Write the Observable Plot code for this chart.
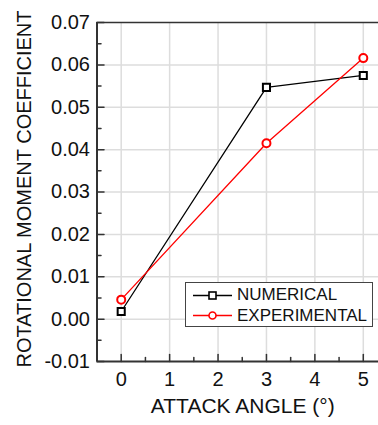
<!DOCTYPE html>
<html><head><meta charset="utf-8">
<script src="https://cdn.jsdelivr.net/npm/d3@7"></script>
<script src="https://cdn.jsdelivr.net/npm/@observablehq/plot@0.6"></script>
<style>
body{margin:0;background:#fff;overflow:hidden}
#wrap{position:relative;width:378px;height:425px;font-family:"Liberation Sans",Arial,sans-serif;color:#111}
#legend{position:absolute;left:185px;top:282px;width:188px;height:45px;border:1.5px solid #444;background:#fff;box-sizing:border-box;padding-top:2px}
.row{display:flex;align-items:center;height:20.5px;font-size:17px;white-space:nowrap}
.row svg{margin-left:7px;margin-right:5px}
</style>
</head><body><div id="wrap"><div id="legend"></div></div>
<script>
const angles = [0, 3, 5];
const numerical = [0.0018, 0.0547, 0.0575];
const experimental = [0.0046, 0.0415, 0.0616];
const seriesNames = ["NUMERICAL", "EXPERIMENTAL"];
const seriesColors = ["#000000", "#ff0000"];
const xTicks = [0, 1, 2, 3, 4, 5];
const xMinor = [0.5, 1.5, 2.5, 3.5, 4.5];
const yTicks = [-0.01, 0, 0.01, 0.02, 0.03, 0.04, 0.05, 0.06, 0.07];
const yMinor = [-0.005, 0.005, 0.015, 0.025, 0.035, 0.045, 0.055, 0.065];
const xLabel = "ATTACK ANGLE (°)";
const yLabel = "ROTATIONAL MOMENT COEFFICIENT";

const numData = angles.map((a, i) => ({x: a, y: numerical[i]}));
const expData = angles.map((a, i) => ({x: a, y: experimental[i]}));
const fmt = d => d3.format(".2f")(d).replace("\u2212", "-");
const xMin = -0.5, xMax = 5.7, yMin = -0.01, yMax = 0.07;
const tickShape = {draw(ctx, l) { ctx.moveTo(0, 0); ctx.lineTo(0, -l); }};

const chart = Plot.plot({
  width: 378, height: 425,
  marginLeft: 96.5, marginTop: 22, marginBottom: 64, marginRight: 0,
  style: {fontFamily: '"Liberation Sans", Arial, sans-serif', color: "#111", background: "white"},
  x: {domain: [-0.5, 5.5], range: [96.5, 387], axis: null},
  y: {domain: [yMin, yMax], range: [361, 22], axis: null},
  marks: [
    Plot.ruleX(xTicks, {y1: yMin, y2: yMax, stroke: "#dddddd", strokeWidth: 1.5}),
    Plot.ruleY(yTicks.filter(v => v > yMin && v < yMax), {x1: xMin, x2: xMax, stroke: "#dddddd", strokeWidth: 1.5}),
    Plot.ruleY([yMax], {x1: xMin, x2: xMax, stroke: "#333", strokeWidth: 1.5}),
    Plot.ruleX([xMin], {y1: yMin, y2: yMax, stroke: "#333", strokeWidth: 2}),
    Plot.ruleY([yMin], {x1: xMin, x2: xMax, stroke: "#333", strokeWidth: 2}),
    Plot.vector(yTicks, {x: xMin, y: d => d, length: 7, rotate: 90, anchor: "start", shape: tickShape, stroke: "#333", strokeWidth: 1.5}),
    Plot.vector(yMinor, {x: xMin, y: d => d, length: 4, rotate: 90, anchor: "start", shape: tickShape, stroke: "#333", strokeWidth: 1.5}),
    Plot.vector(xTicks, {x: d => d, y: yMin, length: 7, rotate: 0, anchor: "start", shape: tickShape, stroke: "#333", strokeWidth: 1.5}),
    Plot.vector(xMinor, {x: d => d, y: yMin, length: 4, rotate: 0, anchor: "start", shape: tickShape, stroke: "#333", strokeWidth: 1.5}),
    Plot.text(yTicks, {x: xMin, y: d => d, text: d => fmt(d), textAnchor: "end", dx: -7, fontSize: 20, fill: "#111"}),
    Plot.text(xTicks, {x: d => d, y: yMin, text: d => String(d), dy: 18, fontSize: 20, fill: "#111"}),
    Plot.text([yLabel], {frameAnchor: "left", textAnchor: "middle", dx: -72, dy: -3, rotate: -90, fontSize: 20, fill: "#111"}),
    Plot.text([xLabel], {frameAnchor: "bottom", dx: 5, dy: 51, fontSize: 21, fill: "#111"}),
    Plot.line(numData, {x: "x", y: "y", stroke: seriesColors[0], strokeWidth: 1.3}),
    Plot.line(expData, {x: "x", y: "y", stroke: seriesColors[1], strokeWidth: 1.3}),
    Plot.dot(numData, {x: "x", y: "y", symbol: "square", r: 4, stroke: seriesColors[0], fill: "white", strokeWidth: 2}),
    Plot.dot(expData, {x: "x", y: "y", symbol: "circle", r: 4, stroke: seriesColors[1], fill: "white", strokeWidth: 2})
  ]
});
const wrap = document.getElementById("wrap");
wrap.insertBefore(chart, wrap.firstChild);

const legend = document.getElementById("legend");
seriesNames.forEach((name, i) => {
  const row = document.createElement("div");
  row.className = "row";
  const marker = i === 0
    ? `<rect x="16" y="6" width="7" height="7" fill="white" stroke="${seriesColors[i]}" stroke-width="1.6"/>`
    : `<circle cx="19.5" cy="9.5" r="3.5" fill="white" stroke="${seriesColors[i]}" stroke-width="1.6"/>`;
  row.innerHTML = `<svg width="39" height="19"><line x1="0" x2="39" y1="9.5" y2="9.5" stroke="${seriesColors[i]}" stroke-width="1.3"/>${marker}</svg><span>${name}</span>`;
  legend.appendChild(row);
});
</script>
</body></html>
